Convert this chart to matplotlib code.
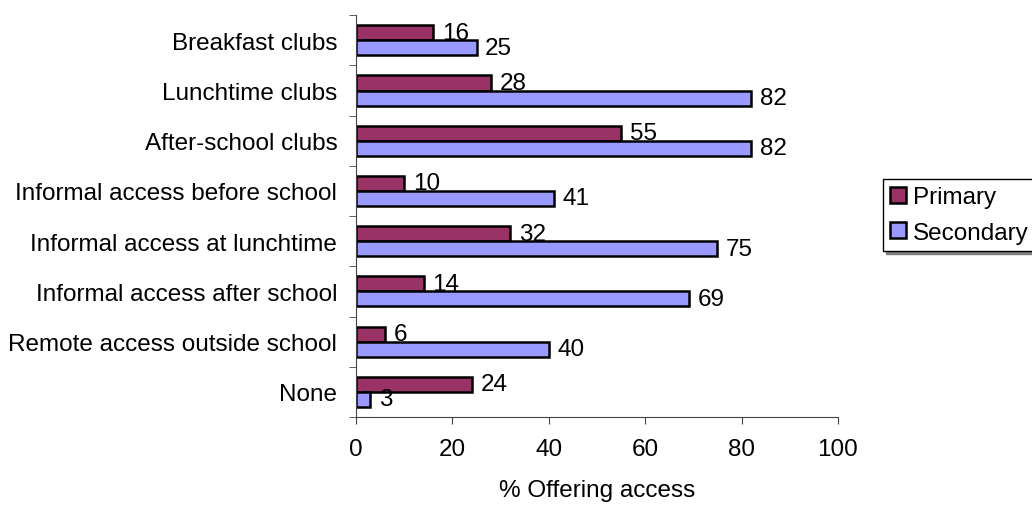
import numpy as np
import matplotlib.pyplot as plt

plt.rcParams['font.family'] = ['Liberation Sans', 'DejaVu Sans']

categories = ['Breakfast clubs', 'Lunchtime clubs', 'After-school clubs',
              'Informal access before school', 'Informal access at lunchtime',
              'Informal access after school', 'Remote access outside school', 'None']
primary = [16, 28, 55, 10, 32, 14, 6, 24]
secondary = [25, 82, 82, 41, 75, 69, 40, 3]

fs = 17.5
fig = plt.figure(figsize=(10.32, 5.06), dpi=100)
ax = fig.add_axes([0.345, 0.174, 0.467, 0.794])

y = np.arange(len(categories))
h = 0.3
b1 = ax.barh(y - h/2, primary, h, color='#993366', edgecolor='black', lw=1.8, label='Primary')
b2 = ax.barh(y + h/2, secondary, h, color='#9999FF', edgecolor='black', lw=1.8, label='Secondary')

for bars, vals in ((b1, primary), (b2, secondary)):
    for r, v in zip(bars, vals):
        ax.text(v + 1.8, r.get_y() + r.get_height()/2, str(v), va='center', ha='left', fontsize=fs)

ax.set_ylim(len(categories) - 0.5, -0.5)
ax.set_xlim(0, 100)
ax.set_xticks([0, 20, 40, 60, 80, 100])
ax.set_yticks(y)
ax.set_yticklabels(categories, fontsize=fs)
ax.set_yticks(np.arange(len(categories) + 1) - 0.5, minor=True)
ax.tick_params(axis='y', which='major', length=0, pad=13.5)
ax.tick_params(axis='y', which='minor', length=5, color='#444444')
ax.tick_params(axis='x', length=5, color='#444444', labelsize=fs, pad=10)
for s in ('top', 'right'):
    ax.spines[s].set_visible(False)
for s in ('left', 'bottom'):
    ax.spines[s].set_color('#444444')
ax.set_xlabel('% Offering access', fontsize=fs, labelpad=14)

leg = ax.legend(loc='upper left', bbox_to_anchor=(0.8556, 0.644), bbox_transform=fig.transFigure,
                fontsize=fs, frameon=True, fancybox=False, edgecolor='black',
                handlelength=0.65, handleheight=0.65, handletextpad=0.3, borderpad=0.3,
                labelspacing=0.55, borderaxespad=0, shadow={'color': '#808080', 'alpha': 1})
leg.get_frame().set_linewidth(1.0)

fig.savefig('out.png', dpi=100)
